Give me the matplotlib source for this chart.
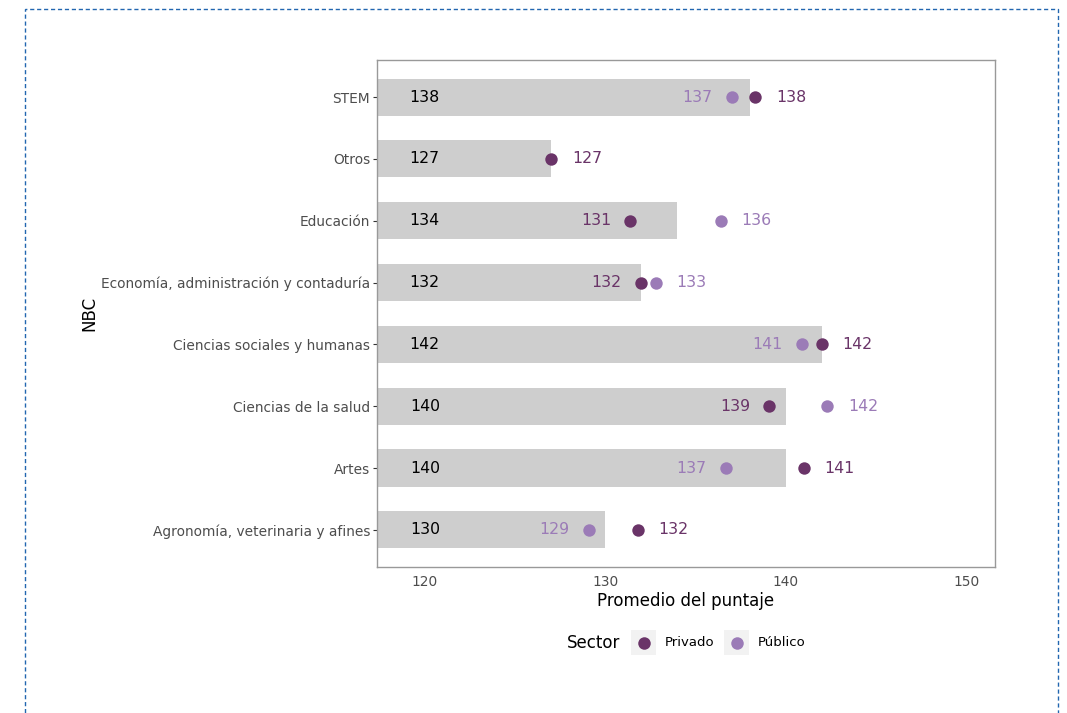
import matplotlib.pyplot as plt
from matplotlib.patches import Rectangle
from matplotlib.lines import Line2D

plt.rcParams['font.family'] = ['DejaVu Sans']

# categories from bottom to top
categorias = ['Agronomía, veterinaria y afines', 'Artes', 'Ciencias de la salud',
              'Ciencias sociales y humanas', 'Economía, administración y contaduría',
              'Educación', 'Otros', 'STEM']
total = [130.0, 140.0, 140.0, 142.0, 132.0, 134.0, 127.0, 138.0]
privado = [131.8, 141.0, 139.1, 142.0, 132.0, 131.4, 127.0, 138.3]
publico = [129.1, 136.7, 142.3, 140.9, 132.8, 136.4, None, 137.0]
sectores = ['Privado', 'Público']

col_priv = '#6a3468'
col_pub = '#9b7bb7'
col_bar = '#cecece'

W, H = 1067, 713
fig = plt.figure(figsize=(W / 100, H / 100), dpi=100)
ax = fig.add_axes([0.3533, 0.2048, 0.5792, 0.7111])

ypos = list(range(1, len(categorias) + 1))
ax.barh(ypos, total, height=0.6, color=col_bar, zorder=1)

for y, t, pr, pu in zip(ypos, total, privado, publico):
    ax.text(120, y, f'{t:.0f}', ha='center', va='center', fontsize=11.3, color='black', zorder=4)
    ax.scatter([pr], [y], s=80, color=col_priv, zorder=3, linewidths=0)
    if pu is None:
        ax.annotate(f'{pr:.0f}', (pr, y), xytext=(15, 0), textcoords='offset points',
                    ha='left', va='center', fontsize=11.3, color=col_priv)
        continue
    ax.scatter([pu], [y], s=80, color=col_pub, zorder=3, linewidths=0)
    for v, other, c in ((pr, pu, col_priv), (pu, pr, col_pub)):
        if v >= other:
            ax.annotate(f'{v:.0f}', (v, y), xytext=(15, 0), textcoords='offset points',
                        ha='left', va='center', fontsize=11.3, color=c)
        else:
            ax.annotate(f'{v:.0f}', (v, y), xytext=(-14, 0), textcoords='offset points',
                        ha='right', va='center', fontsize=11.3, color=c)

ax.set_xlim(117.35, 151.6)
ax.set_ylim(0.4, 8.6)
ax.set_xticks([120, 130, 140, 150])
ax.set_yticks(ypos)
ax.set_yticklabels(categorias)
ax.tick_params(axis='x', length=0, labelsize=9.9, colors='#4d4d4d', pad=6)
ax.tick_params(axis='y', length=3, labelsize=9.9, labelcolor='#4d4d4d', color='#333333', pad=2)
for s in ax.spines.values():
    s.set_color('#999999')
    s.set_linewidth(1)
ax.set_xlabel('Promedio del puntaje', fontsize=12, labelpad=2)
ax.set_ylabel('NBC', fontsize=12, labelpad=2)

# legend drawn by hand: title on the left, keys in a row
ly = 1 - 643 / H
fig.text(567 / W, ly, 'Sector', fontsize=12, ha='left', va='center')
for x0, lab, c in ((631, sectores[0], col_priv), (724, sectores[1], col_pub)):
    fig.add_artist(Rectangle((x0 / W, 1 - 655 / H), 25 / W, 25 / H, transform=fig.transFigure,
                             facecolor='#f2f2f2', edgecolor='none'))
    fig.add_artist(Line2D([(x0 + 12.5) / W], [ly], marker='o', linestyle='', color=c,
                          markersize=9, markeredgewidth=0, transform=fig.transFigure))
    fig.text((x0 + 34) / W, ly, lab, fontsize=9.5, ha='left', va='center')

fig.add_artist(Rectangle((25 / W, -0.05), 1033 / W, 1.05 - 9 / H, transform=fig.transFigure,
                         fill=False, edgecolor='#2266b0', linestyle=(0, (3, 2)), linewidth=1))

fig.savefig('out.png', dpi=100)
